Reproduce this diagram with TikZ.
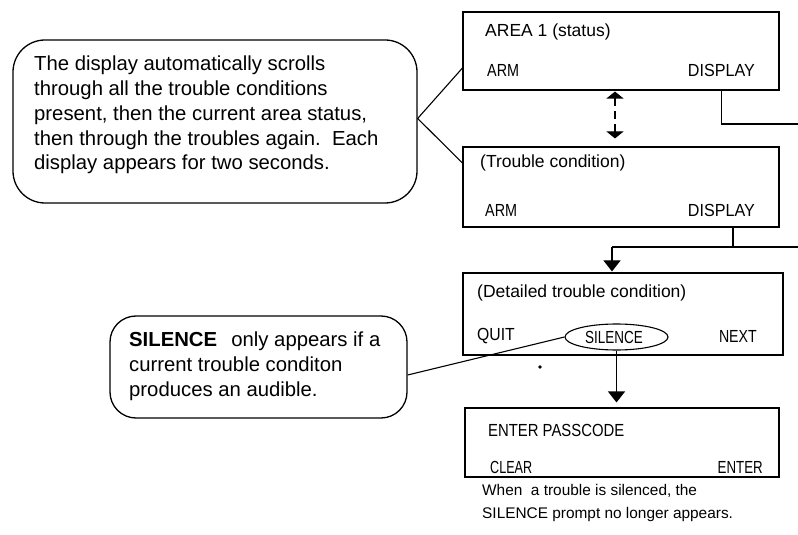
\documentclass[tikz,border=0pt]{standalone}
\usepackage{fontspec}
\usepackage{graphicx}
\setmainfont{Liberation Sans}
\usetikzlibrary{arrows.meta,shapes.geometric,calc}
\newcommand{\cnd}[2]{\scalebox{#1}[1]{#2}}
\begin{document}
\begin{tikzpicture}[x=1bp,y=-1bp,
  box/.style={draw,line width=1.1bp,inner sep=0pt},
  callout/.style={draw,line width=1.3bp,inner sep=0pt},
  lbl/.style={inner sep=0pt,font=\fontsize{17.5bp}{21bp}\selectfont},
  ctext/.style={inner sep=0pt,align=left,font=\fontsize{20.3bp}{24.8bp}\selectfont},
  note/.style={inner sep=0pt,align=left,font=\fontsize{15.4bp}{23bp}\selectfont},
  conn/.style={line width=1.1bp},
  arr/.style={line width=1.1bp,-{Triangle[width=17bp,length=11bp]}},
  dasharr/.style={line width=1.1bp,dash pattern=on 8bp off 5bp,
     {Triangle[width=17bp,length=7bp]}-{Triangle[width=17bp,length=7bp]}}]
\useasboundingbox (0,0) rectangle (798,535);

% display boxes
\node[box,minimum width=316bp,minimum height=78bp] (b1) at (621,51) {};
\node[box,minimum width=316bp,minimum height=80bp] (b2) at (621,187) {};
\node[box,minimum width=320bp,minimum height=82bp] (b3) at (623,314) {};
\node[box,minimum width=314bp,minimum height=69bp] (b4) at (622,442.5) {};

% box 1 texts
\node[lbl,anchor=west] (t1) at (485,32) {AREA 1 (status)};
\node[lbl,anchor=west] (arm1) at (487,70) {\cnd{0.82}{ARM}};
\node[lbl,anchor=east] (d1) at (755,70) {\cnd{0.92}{DISPLAY}};

% box 2 texts
\node[lbl,anchor=west] (t2) at (480,163) {(Trouble condition)};
\node[lbl,anchor=west] (arm2) at (485,210) {\cnd{0.82}{ARM}};
\node[lbl,anchor=east] (d2) at (755,210) {\cnd{0.92}{DISPLAY}};

% box 3 texts
\node[lbl,anchor=west] (t3) at (477,293) {(Detailed trouble condition)};
\node[lbl,anchor=west] (quit) at (477,336) {\cnd{0.9}{QUIT}};
\node[draw,ellipse,line width=1.1bp,inner sep=0pt,minimum width=103bp,minimum height=26bp] (sil) at (616.5,337) {};
\node[lbl] (silt) at (614,337) {\cnd{0.77}{SILENCE}};
\node[lbl,anchor=east] (next) at (757,336) {\cnd{0.81}{NEXT}};

% box 4 texts
\node[lbl,anchor=west] (t4) at (488,430) {\cnd{0.85}{ENTER PASSCODE}};
\node[lbl,anchor=west] (clr) at (490,467) {\cnd{0.72}{CLEAR}};
\node[lbl,anchor=east] (ent) at (763,467) {\cnd{0.76}{ENTER}};

% note below box 4
\node[note,anchor=west] (nt) at (482,503.5) {When\ \ a trouble is silenced, the\\SILENCE prompt no longer appears.};

% callout 1
\node[callout,rounded corners=32bp,minimum width=404bp,minimum height=163bp] (c1) at (215,121.5) {};
\node[ctext,anchor=west] (c1t) at (34,115) {The display automatically scrolls\\through all the trouble conditions\\present, then the current area status,\\then through the troubles again.\ \ Each\\display appears for two seconds.};
\draw[conn] ([yshift=-17bp]b1.west) -- ([yshift=3bp]c1.east) -- ([yshift=24bp]b2.west);

% callout 2
\node[callout,rounded corners=26bp,minimum width=297bp,minimum height=102bp] (c2) at (258.5,367) {};
\node[ctext,anchor=west] (c2t) at (129,366) {\textbf{SILENCE}\hspace{0.7em}only appears if a\\current trouble conditon\\produces an audible.};
\draw[conn] ([yshift=-8bp]c2.east) -- (sil.west);

% stray mark
\fill (540,367) circle[radius=1.8bp];

% dashed two-way arrow between box 1 and box 2
\coordinate (m) at (615,0);
\draw[dasharr,shorten <=1bp,shorten >=8bp] (m |- b1.south) -- (m |- b2.north);

% DISPLAY connector from box 1
\coordinate (e1) at (798,124);
\draw[conn] (d1 |- b1.south) -- (d1 |- e1) -- (e1);

% DISPLAY connector from box 2 and arrow to box 3
\coordinate (j2) at (733,247);
\coordinate (e2) at (798,247);
\coordinate (a3) at (612,247);
\draw[conn] (j2 |- b2.south) -- (j2);
\draw[conn] (e2) -- (a3);
\draw[arr,shorten >=1bp] (a3) -- (a3 |- b3.north);

% SILENCE to passcode box
\draw[arr,shorten >=5bp] (sil.south) -- (sil.south |- b4.north);
\end{tikzpicture}
\end{document}
